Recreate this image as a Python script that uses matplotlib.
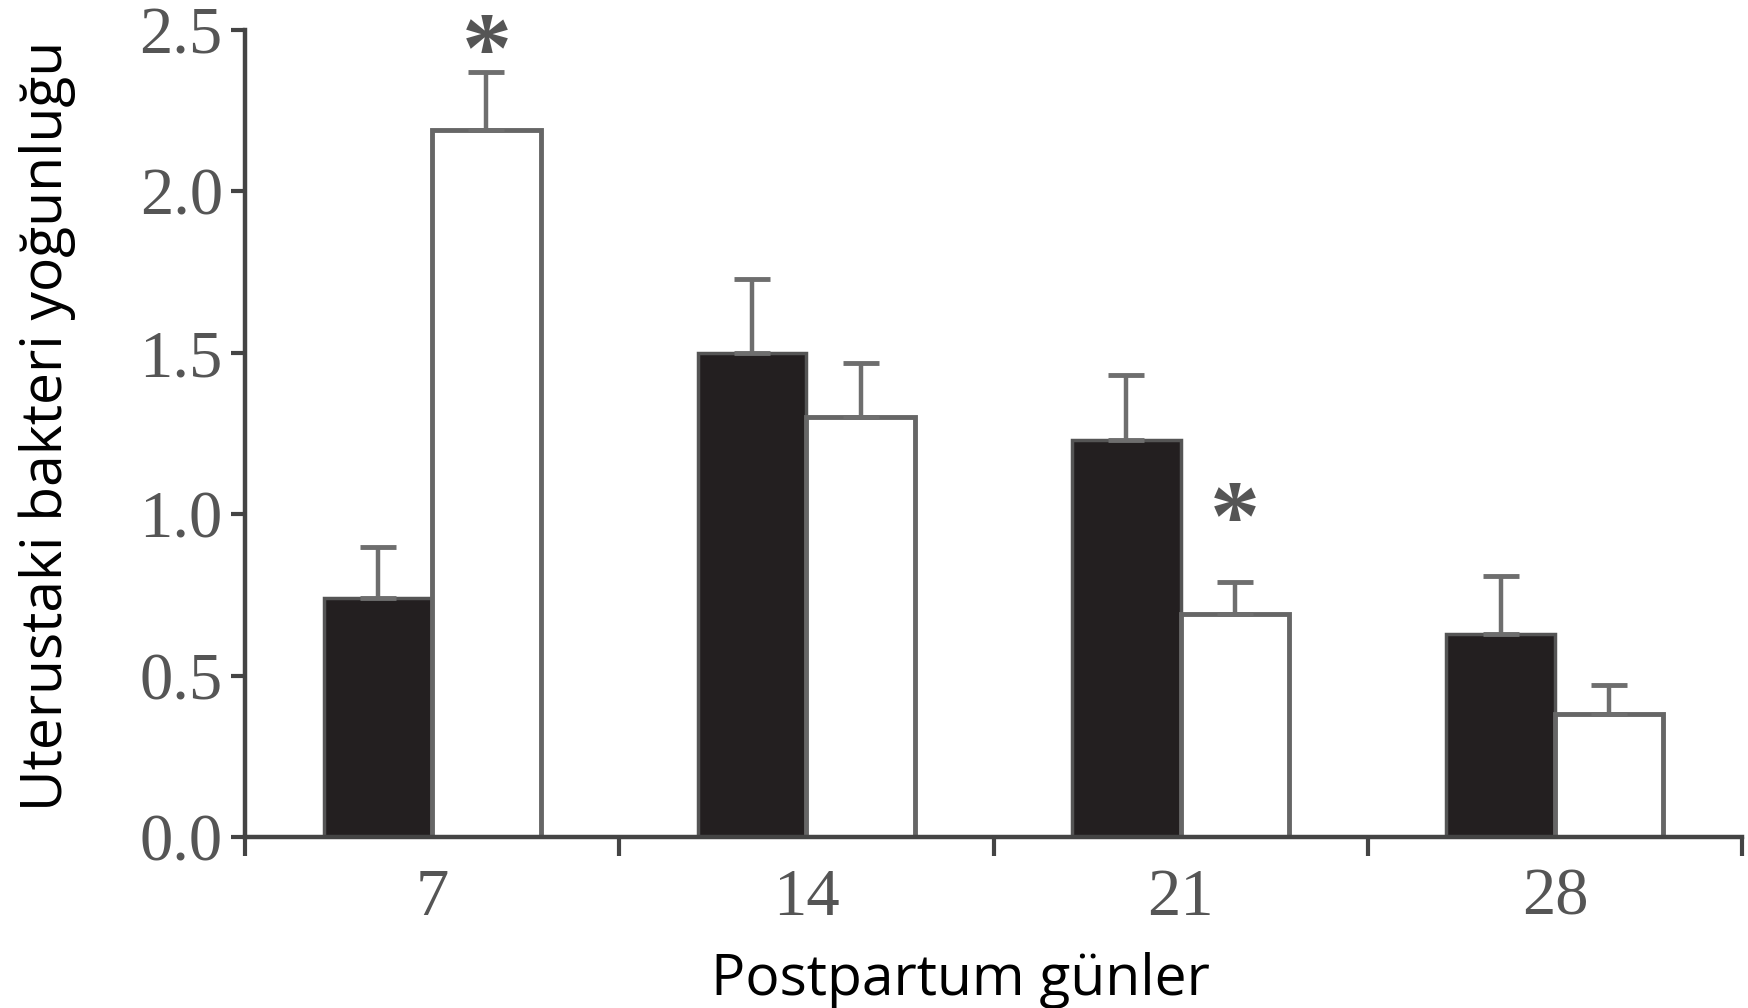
import numpy as np
import matplotlib
matplotlib.use("Agg")
import matplotlib.pyplot as plt

# Veriler (okunan değerler)
days = ["7", "14", "21", "28"]
black_vals = [0.74, 1.50, 1.23, 0.63]
black_err = [0.16, 0.23, 0.20, 0.18]
white_vals = [2.19, 1.30, 0.69, 0.38]
white_err = [0.18, 0.17, 0.10, 0.09]
# yıldız işaretlerinin yüksekliği (yoksa None)
star_y = [2.42, None, 0.97, None]

fig = plt.figure(figsize=(17.48, 10.08), dpi=100)
ax = fig.add_axes([0.1402, 0.1696, 0.8564, 0.8006])

x = np.arange(len(days))
w = 0.29
err_kw = dict(ecolor="#6e6e6e", elinewidth=3.2, capsize=13, capthick=3.5)

ax.bar(x - w / 2, black_vals, w, color="#231f20", edgecolor="#555555",
       linewidth=2.5, yerr=[np.zeros(4), black_err], error_kw=err_kw, zorder=2)
ax.bar(x + w / 2, white_vals, w, color="white", edgecolor="#666666",
       linewidth=3.5, yerr=[np.zeros(4), white_err], error_kw=err_kw, zorder=2)

for i, y in enumerate(star_y):
    if y is not None:
        ax.text(x[i] + w / 2, y, "*", ha="center", va="center",
                fontsize=72, fontweight="bold", color="#555555",
                family="Liberation Serif")

ax.set_xlim(-0.5, 3.5)
ax.set_ylim(0, 2.5)
ax.set_yticks([0, 0.5, 1.0, 1.5, 2.0, 2.5])
ax.set_yticklabels(["0.0", "0.5", "1.0", "1.5", "2.0", "2.5"])

# x ekseni: etiketler grup ortasında, çentikler grup sınırlarında
ax.set_xticks(np.arange(-0.5, 4.0, 1.0))
ax.set_xticklabels([])
ax.set_xticks(x, minor=True)
ax.set_xticklabels(days, minor=True)
ax.tick_params(axis="x", which="minor", length=0, pad=22)
ax.tick_params(axis="x", which="major", direction="out", length=14,
               width=3, color="#444444")
ax.tick_params(axis="y", direction="out", length=10, width=3,
               color="#444444", pad=6)

for lab in ax.get_xticklabels(minor=True) + ax.get_yticklabels():
    lab.set_family("Liberation Serif")
    lab.set_fontsize(48)
    lab.set_color("#555555")

ax.spines["top"].set_visible(False)
ax.spines["right"].set_visible(False)
for s in ["left", "bottom"]:
    ax.spines[s].set_linewidth(3.2)
    ax.spines[s].set_color("#444444")

ax.set_xlabel("Postpartum günler", family="Open Sans", fontsize=41,
              color="black")
ax.xaxis.set_label_coords(0.478, -0.142)
ax.set_ylabel("Uterustaki bakteri yoğunluğu", family="Open Sans",
              fontsize=41, color="black")
ax.yaxis.set_label_coords(-0.113, 0.51)

fig.savefig("out.png", dpi=100)
